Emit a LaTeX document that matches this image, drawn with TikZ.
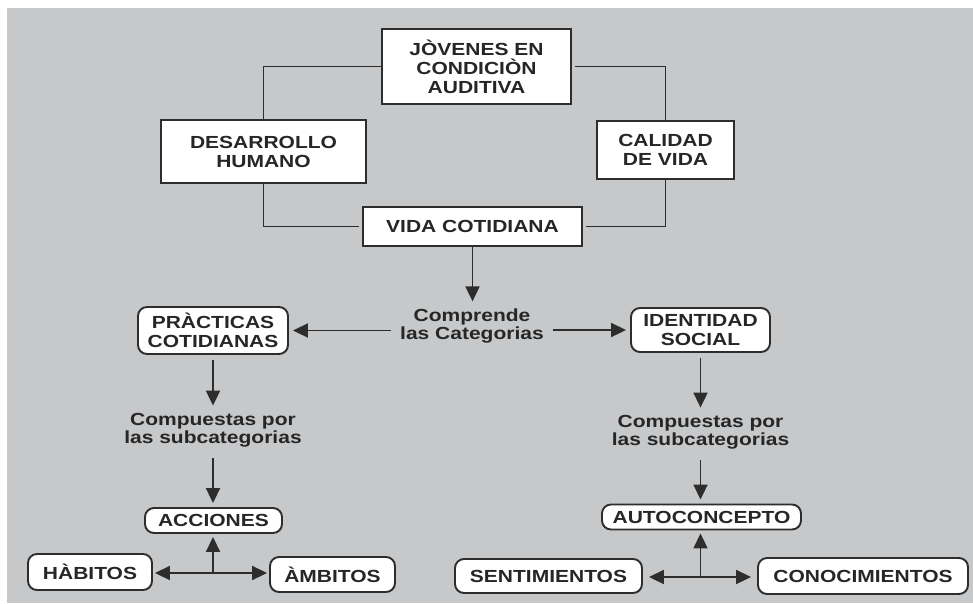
\documentclass[tikz,border=0pt]{standalone}
\usepackage{fontspec}
\setmainfont{Liberation Sans}[FakeStretch=1.2]
\usetikzlibrary{arrows.meta}
\definecolor{bgc}{RGB}{199,200,202}
\definecolor{lnc}{RGB}{45,45,45}
\definecolor{txc}{RGB}{38,38,38}
\begin{document}
\begin{tikzpicture}[x=1pt,y=-1pt,
 box/.style={draw=lnc, line width=1.9pt, fill=white, align=center,
   font=\bfseries\fontsize{17.5}{19}\selectfont, text=txc, inner sep=0pt},
 rbox/.style={box, rounded corners=9pt},
 lbl/.style={align=center, font=\bfseries\fontsize{17.5}{18.5}\selectfont, text=txc, inner sep=3pt},
 con/.style={draw=lnc, line width=1.9pt},
 arr/.style={con, -{Triangle[length=15pt,width=14pt]}},
]
\useasboundingbox (0,0) rectangle (973,603);
\fill[bgc] (7,8) rectangle (973,603);

% top boxes
\node[box, minimum width=189pt, minimum height=75pt] (jov) at (476.5,66.5) {JÒVENES EN\\CONDICIÒN\\AUDITIVA};
\node[box, minimum width=205pt, minimum height=63pt] (des) at (263.5,151.5) {DESARROLLO\\HUMANO};
\node[box, minimum width=137pt, minimum height=58pt] (cal) at (665.5,150) {CALIDAD\\DE VIDA};
\node[box, minimum width=219pt, minimum height=39pt] (vida) at (472.5,226.5) {VIDA COTIDIANA};

% middle
\node[lbl] (comp) at (472,326) {Comprende\\las Categorias};
\node[rbox, minimum width=150pt, minimum height=47pt] (prac) at (213,330.5) {PRÀCTICAS\\COTIDIANAS};
\node[rbox, minimum width=139pt, minimum height=44pt] (iden) at (700.5,330) {IDENTIDAD\\SOCIAL};

\node[lbl] (sub1) at (213,430) {Compuestas por\\las subcategorias};
\node[lbl] (sub2) at (700.5,432) {Compuestas por\\las subcategorias};

% bottom
\node[rbox, minimum width=137pt, minimum height=25pt] (acc) at (213.5,520.5) {ACCIONES};
\node[rbox, minimum width=199pt, minimum height=25pt] (auto) at (701.5,517) {AUTOCONCEPTO};
\node[rbox, minimum width=124pt, minimum height=36pt] (hab) at (90,572) {HÀBITOS};
\node[rbox, minimum width=125pt, minimum height=35pt] (amb) at (332.5,574.5) {ÀMBITOS};
\node[rbox, minimum width=187pt, minimum height=34pt] (sent) at (548.5,576) {SENTIMIENTOS};
\node[rbox, minimum width=210pt, minimum height=36pt] (cono) at (863,576) {CONOCIMIENTOS};

\coordinate (j1) at (213,573);
\coordinate (j2) at (700.5,577);

% frame connectors
\draw[con] (jov.west) -| (des.north);
\draw[con, shorten <=3pt] (jov.east) -| (cal.north);
\draw[con, shorten >=3pt] (des.south) |- (vida.west);
\draw[con, shorten >=3pt] (cal.south) |- (vida.east);

% arrows
\draw[arr, shorten >=4pt] (vida.south) -- (vida.south |- comp.north);
\draw[arr, shorten <=6pt, shorten >=4pt] (comp.west |- prac.east) -- (prac.east);
\draw[arr, shorten <=6pt, shorten >=4pt] (comp.east |- iden.west) -- (iden.west);

\draw[arr, shorten <=5pt, shorten >=4pt] (prac.south) -- (prac.south |- sub1.north);
\draw[arr, shorten <=8pt, shorten >=4pt] (sub1.south) -- (sub1.south |- acc.north);
\draw[arr, shorten <=5pt, shorten >=4pt] (iden.south) -- (iden.south |- sub2.north);
\draw[arr, shorten <=8pt, shorten >=4pt] (sub2.south) -- (sub2.south |- auto.north);

\draw[arr, shorten >=3pt] (j1) -- (j1 |- acc.south);
\draw[arr, shorten >=2pt] (j1) -- (j1 -| hab.east);
\draw[arr, shorten >=2pt] (j1) -- (j1 -| amb.west);
\draw[arr, shorten >=3pt] (j2) -- (j2 |- auto.south);
\draw[arr, shorten >=6pt] (j2) -- (j2 -| sent.east);
\draw[arr, shorten >=6pt] (j2) -- (j2 -| cono.west);
\end{tikzpicture}
\end{document}
